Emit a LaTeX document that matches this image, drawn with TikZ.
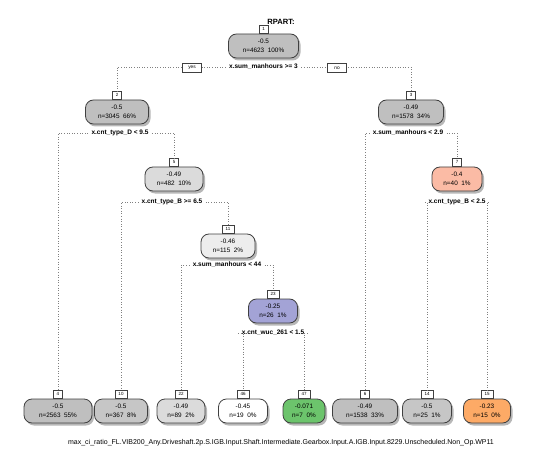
\documentclass[tikz,border=0pt]{standalone}
\usepackage{fontspec}
\setmainfont{Liberation Sans}
\usetikzlibrary{shadows}
\definecolor{boxline}{HTML}{404040}
\definecolor{cA}{HTML}{BFBFBF}
\definecolor{cB}{HTML}{C6C6C6}
\definecolor{cC}{HTML}{DBDBDB}
\definecolor{cD}{HTML}{EDEDED}
\definecolor{cPur}{HTML}{A3A3D6}
\definecolor{cSal}{HTML}{FBBBA5}
\definecolor{cGrn}{HTML}{6CC46C}
\definecolor{cOra}{HTML}{FDAA66}
\definecolor{conncol}{HTML}{808080}
\begin{document}
\begin{tikzpicture}[x=1pt,y=-1pt,
  nbox/.style={draw=boxline, rounded corners=8pt, line width=0.8pt,
    minimum height=24pt, inner sep=0pt, align=center,
    font=\fontsize{6.4}{8.8}\selectfont,
    drop shadow={shadow xshift=2pt,shadow yshift=-2.5pt,fill=black!40,opacity=0.7}},
  numbox/.style={draw=boxline, fill=white, line width=0.5pt,
    font=\fontsize{4.5}{5}\selectfont, inner sep=0.8pt,
    minimum width=9pt, minimum height=8pt, anchor=south},
  split/.style={font=\bfseries\fontsize{6.5}{7}\selectfont, inner sep=1pt, outer sep=2.5pt},
  yn/.style={draw=boxline, fill=white, line width=0.5pt,
    font=\fontsize{4.8}{5}\selectfont, inner sep=0.8pt,
    minimum width=19pt, minimum height=9pt},
  conn/.style={draw=conncol, dotted, line width=0.6pt}]
\useasboundingbox (0,0) rectangle (540,449);

\node[font=\bfseries\fontsize{7.6}{8}\selectfont] (title) at (281,22) {RPART:};

% internal nodes
\node[nbox, fill=cA, minimum width=70pt] (n1) at (263.5,46) {-0.5\\n=4623\ \ 100\%};
\node[numbox] (l1) at (n1.north) {1};
\node[split] (s1) at (263.5,67) {x.sum\_manhours >= 3};

\node[nbox, fill=cA, minimum width=63pt] (n2) at (117,112) {-0.5\\n=3045\ \ 66\%};
\node[numbox] (l2) at (n2.north) {2};
\node[split] (s2) at (120,133) {x.cnt\_type\_D < 9.5};

\node[nbox, fill=cA, minimum width=65pt] (n3) at (411,112) {-0.49\\n=1578\ \ 34\%};
\node[numbox] (l3) at (n3.north) {3};
\node[split] (s3) at (408,133) {x.sum\_manhours < 2.9};

\node[nbox, fill=cC, minimum width=58pt] (n5) at (174,179) {-0.49\\n=482\ \ 10\%};
\node[numbox] (l5) at (n5.north) {5};
\node[split] (s5) at (172,202) {x.cnt\_type\_B >= 6.5};

\node[nbox, fill=cSal, minimum width=50pt] (n7) at (457,179) {-0.4\\n=40\ \ 1\%};
\node[numbox] (l7) at (n7.north) {7};
\node[split] (s7) at (457,202) {x.cnt\_type\_B < 2.5};

\node[nbox, fill=cD, minimum width=54pt] (n11) at (228,246) {-0.46\\n=115\ \ 2\%};
\node[numbox, minimum width=12pt] (l11) at (n11.north) {11};
\node[split] (s11) at (227,265) {x.sum\_manhours < 44};

\node[nbox, fill=cPur, minimum width=49pt] (n23) at (273,311) {-0.25\\n=26\ \ 1\%};
\node[numbox, minimum width=12pt] (l23) at (n23.north) {23};
\node[split] (s23) at (273,333) {x.cnt\_wuc\_261 < 1.5};

% leaves
\node[nbox, fill=cA, minimum width=68pt] (n4) at (58,411) {-0.5\\n=2563\ \ 55\%};
\node[numbox] (l4) at (n4.north) {4};
\node[nbox, fill=cB, minimum width=53pt] (n10) at (121,411) {-0.5\\n=367\ \ 8\%};
\node[numbox, minimum width=12pt] (l10) at (n10.north) {10};
\node[nbox, fill=cC, minimum width=48pt] (n22) at (181,411) {-0.49\\n=89\ \ 2\%};
\node[numbox, minimum width=12pt] (l22) at (n22.north) {22};
\node[nbox, fill=white, minimum width=49pt] (n46) at (243,411) {-0.45\\n=19\ \ 0\%};
\node[numbox, minimum width=12pt] (l46) at (n46.north) {46};
\node[nbox, fill=cGrn, minimum width=42pt] (n47) at (304,411) {-0.071\\n=7\ \ 0\%};
\node[numbox, minimum width=12pt] (l47) at (n47.north) {47};
\node[nbox, fill=cA, minimum width=65pt] (n6) at (365,411) {-0.49\\n=1538\ \ 33\%};
\node[numbox] (l6) at (n6.north) {6};
\node[nbox, fill=cB, minimum width=49pt] (n14) at (427,411) {-0.5\\n=25\ \ 1\%};
\node[numbox, minimum width=12pt] (l14) at (n14.north) {14};
\node[nbox, fill=cOra, minimum width=47pt] (n15) at (487,411) {-0.23\\n=15\ \ 0\%};
\node[numbox, minimum width=12pt] (l15) at (n15.north) {15};

% connectors
\draw[conn] (s1.west) -| (l2.north);
\draw[conn] (s1.east) -| (l3.north);
\draw[conn] (s2.west) -| (l4.north);
\draw[conn] (s2.east) -| (l5.north);
\draw[conn] (s5.west) -| (l10.north);
\draw[conn] (s5.east) -| (l11.north);
\draw[conn] (s11.west) -| (l22.north);
\draw[conn] (s11.east) -| (l23.north);
\draw[conn] (s23.west) -| (l46.north);
\draw[conn] (s23.east) -| (l47.north);
\draw[conn] (s3.west) -| (l6.north);
\draw[conn] (s3.east) -| (l7.north);
\draw[conn] (s7.west) -| (l14.north);
\draw[conn] (s7.east) -| (l15.north);

\node[yn] (yes) at (192,68) {yes};
\node[yn] (no) at (337,68) {no};

\node[font=\fontsize{7}{8}\selectfont] (sub) at (281,443) {max\_ci\_ratio\_FL.VIB200\_Any.Driveshaft.2p.S.IGB.Input.Shaft.Intermediate.Gearbox.Input.A.IGB.Input.8229.Unscheduled.Non\_Op.WP11};
\end{tikzpicture}
\end{document}
